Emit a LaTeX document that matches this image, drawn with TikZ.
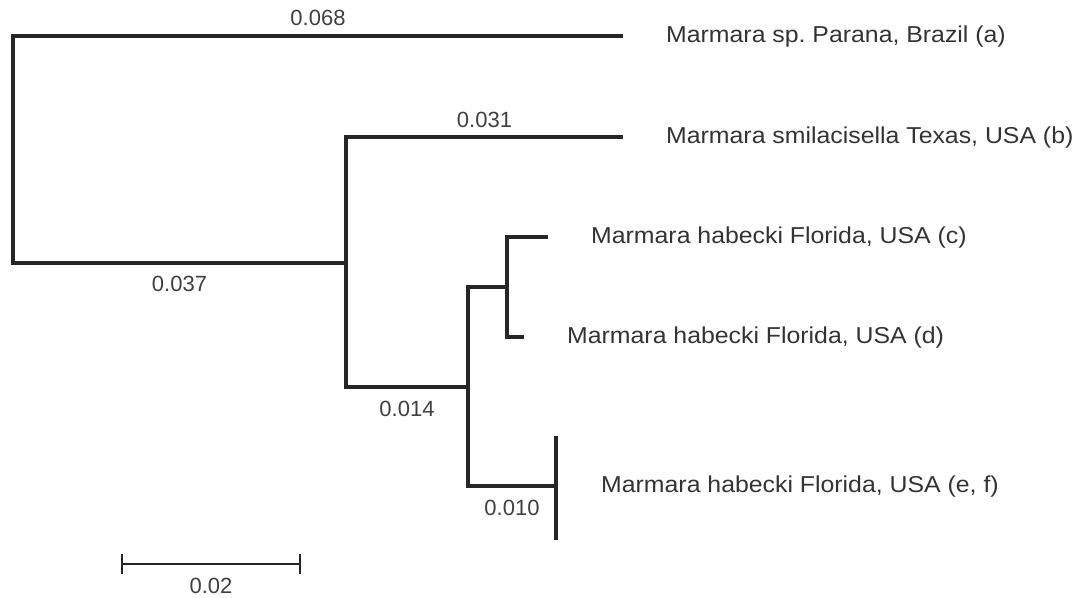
\documentclass[tikz,border=0pt]{standalone}
\usepackage{fontspec}
\setmainfont{Liberation Sans}
\newfontfamily\widefont[FakeStretch=1.08]{Liberation Sans}
\usetikzlibrary{positioning,arrows.meta}
\begin{document}
\begin{tikzpicture}[x=1pt,y=-1pt]
  \tikzstyle{branch}=[line width=3.2pt, color=black!85]
  \tikzstyle{taxon}=[inner sep=0pt, node distance=43pt, font=\widefont\fontsize{23}{25}\selectfont, text=black!80]
  \tikzstyle{len}=[inner sep=0pt, font=\fontsize{22}{24}\selectfont, text=black!75]
  \useasboundingbox (0,0) rectangle (1076,597);

  % inner nodes and tips
  \coordinate (root) at (13,150);
  \coordinate (n1) at (346,263);
  \coordinate (n2) at (468,387);
  \coordinate (n3) at (507,287);
  \coordinate (n4) at (556,486);
  \coordinate (tipa) at (623,36);
  \coordinate (tipb) at (623,137);
  \coordinate (tipc) at (548,237);
  \coordinate (tipd) at (524,337);
  \coordinate (tipe) at (556,436);
  \coordinate (tipf) at (556,540);

  \draw[branch] (root) |- (tipa) node[len,pos=0.75,above=9pt] {0.068};
  \draw[branch] (root) |- (n1) node[len,pos=0.75,below=12pt] {0.037};
  \draw[branch] (n1) |- (tipb) node[len,pos=0.75,above=8pt] {0.031};
  \draw[branch] (n1) |- (n2) node[len,pos=0.75,below=13pt] {0.014};
  \draw[branch] (n2) |- (n3);
  \draw[branch] (n3) |- (tipc);
  \draw[branch] (n3) |- (tipd);
  \draw[branch] (n2) |- (n4) node[len,pos=0.75,below=13pt] {0.010};
  \draw[branch] (tipe) -- (tipf);

  \node[taxon, right=of tipa, yshift=-1pt] (ta) {Marmara sp.\ Parana, Brazil (a)};
  \node[taxon, right=of tipb, yshift=-1pt] (tb) {Marmara smilacisella Texas, USA (b)};
  \node[taxon, right=of tipc, yshift=-1pt] (tc) {Marmara habecki Florida, USA (c)};
  \node[taxon, right=of tipd, yshift=-1pt] (td) {Marmara habecki Florida, USA (d)};
  \node[taxon, right=45pt of n4, yshift=-1pt] (tef) {Marmara habecki Florida, USA (e, f)};

  % scale bar
  \coordinate (sbl) at (121,564);
  \coordinate (sbr) at (301,564);
  \draw[line width=2.2pt, color=black!85, {Bar[width=20pt]}-{Bar[width=20pt]}] (sbl) -- (sbr)
    node[len,midway,below=13pt] {0.02};
\end{tikzpicture}
\end{document}
